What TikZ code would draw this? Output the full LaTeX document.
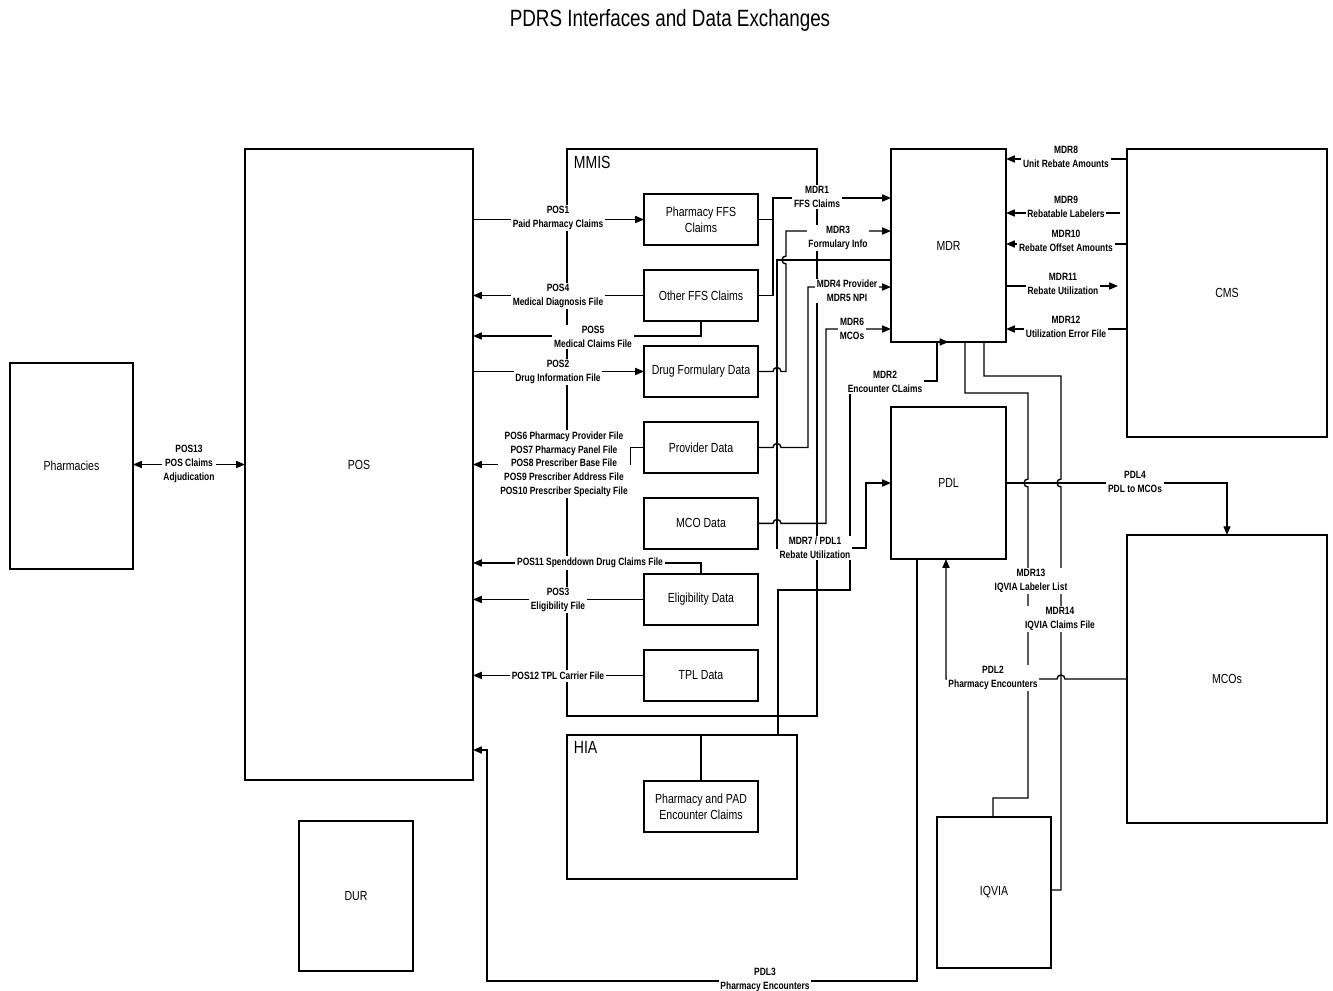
\documentclass[tikz,border=0pt]{standalone}
\usepackage{fontspec}
\setmainfont{Liberation Sans}[FakeStretch=0.8]
\usepackage{tikz}
\usetikzlibrary{arrows.meta,positioning}

\begin{document}
\begin{tikzpicture}[
  x=0.02cm, y=-0.02cm,
  node distance=0.5cm,
  line width=0.8pt,
  sysbox/.style={rectangle,draw,inner sep=0pt,outer sep=0pt,align=center,font=\fontsize{7.5}{9}\selectfont},
  databox/.style={sysbox,minimum width=2.28cm,minimum height=1.02cm},
  grpbox/.style={rectangle,draw,inner sep=0pt,outer sep=0pt},
  grplbl/.style={anchor=north west,inner sep=3.5pt,font=\fontsize{10}{12}\selectfont},
  lbl/.style={fill=white,inner sep=1pt,align=center,font=\bfseries\fontsize{6}{7.8}\selectfont},
  arrow/.style={-{Triangle[length=5pt,width=4pt]}},
  darrow/.style={{Triangle[length=5pt,width=4pt]}-{Triangle[length=5pt,width=4pt]}}
]
  \useasboundingbox (0,0) rectangle (1333,991);

  % Title
  \node[font=\fontsize{13.4}{16}\selectfont] (title) at (670,20) {PDRS Interfaces and Data Exchanges};

  % Systems
  \node[sysbox,minimum width=2.46cm,minimum height=4.12cm] (phar) at (71.5,466) {Pharmacies};
  \node[sysbox,minimum width=4.56cm,minimum height=12.62cm] (pos) at (359,464.5) {POS};
  \node[sysbox,minimum width=2.28cm,minimum height=3cm] (dur) at (356,896) {DUR};
  \node[sysbox,minimum width=2.3cm,minimum height=3.86cm] (mdr) at (948.5,245.5) {MDR};
  \node[sysbox,minimum width=2.3cm,minimum height=3.04cm] (pdl) at (948.5,483) {PDL};
  \node[sysbox,minimum width=4cm,minimum height=5.76cm] (cms) at (1227,293) {CMS};
  \node[sysbox,minimum width=4cm,minimum height=5.76cm] (mcos) at (1227,679) {MCOs};
  \node[sysbox,minimum width=2.28cm,minimum height=3.02cm] (iqvia) at (994,892.5) {IQVIA};

  % MMIS
  \node[grpbox,minimum width=5cm,minimum height=11.34cm,label={[grplbl,name=mmislbl]north west:MMIS}] (mmis) at (692,432.5) {};
  \node[databox] (ffs) at (701,219.5) {Pharmacy FFS\\Claims};
  \node[databox,below=of ffs] (other) {Other FFS Claims};
  \node[databox,below=of other] (form) {Drug Formulary Data};
  \node[databox,below=of form] (prov) {Provider Data};
  \node[databox,below=of prov] (mco) {MCO Data};
  \node[databox,below=of mco] (elig) {Eligibility Data};
  \node[databox,below=of elig] (tpl) {TPL Data};

  % HIA
  \node[grpbox,minimum width=4.6cm,minimum height=2.88cm,label={[grplbl,name=hialbl]north west:HIA}] (hia) at (682,807) {};
  \node[databox] (pad) at (701,806.5) {Pharmacy and PAD\\Encounter Claims};

  % POS interfaces
  \draw[darrow] (phar.east |- pos.west) -- (pos.west);
  \draw[arrow] (pos.east |- ffs.west) -- (ffs.west);
  \draw[arrow] (other.west) -- (pos.east |- other.west);
  \draw[arrow] (other.south) -- ++(0,15) coordinate (p5) -- (p5 -| pos.east);
  \draw[arrow] (pos.east |- form.west) -- (form.west);
  \draw[arrow] (prov.west) -- ++(-14,0) |- (pos.east);
  \draw[arrow] (elig.north) -- ++(0,-11) coordinate (p11) -- (p11 -| pos.east);
  \draw[arrow] (elig.west) -- (pos.east |- elig.west);
  \draw[arrow] (tpl.west) -- (pos.east |- tpl.west);

  % MMIS to MDR
  \draw (ffs.east) -- (ffs.east -| 773,0);
  \draw[arrow] (other.east) -| (773,198) -- (mdr.west |- 0,198);
  \draw[arrow] (form.east) -- (form.east -| 773,0) arc[start angle=180,end angle=0,radius=0.08cm]
    -- (form.east -| 786,0) -- (786,264) arc[start angle=270,end angle=90,radius=0.08cm]
    -- (786,231) -- (mdr.west |- 0,231);
  \draw[arrow] (prov.east) -- (prov.east -| 773,0) arc[start angle=180,end angle=0,radius=0.08cm]
    -- (prov.east -| 808,0) |- (mdr.west |- 0,287);
  \draw[arrow] (mco.east) -- (mco.east -| 773,0) arc[start angle=180,end angle=0,radius=0.08cm]
    -- (mco.east -| 826,0) |- (mdr.west |- 0,329);

  % MDR to PDL, HIA to MDR
  \draw[arrow] (mdr.west |- 0,260) -- (777,260) -- (777,548) -- (866,548) |- (pdl.west);
  \draw[arrow] (pad.north) |- (778,735) -- (778,590) -- (850,590) -- (850,381) -- (937,381) |- (mdr.south);

  % CMS
  \draw[arrow] (cms.west |- 0,159) -- (mdr.east |- 0,159);
  \draw[arrow,shorten <=0.14cm] (cms.west |- 0,213) -- (mdr.east |- 0,213);
  \draw[arrow] (cms.west |- 0,244) -- (mdr.east |- 0,244);
  \draw[arrow,shorten >=0.18cm] (mdr.east |- 0,286) -- (cms.west |- 0,286);
  \draw[arrow] (cms.west |- 0,329) -- (mdr.east |- 0,329);

  % IQVIA
  \draw (mdr.south -| 965,0) -- (965,393) -- (1028,393) -- (1028,479) arc[start angle=90,end angle=270,radius=0.08cm]
    -- (1028,798) -- (993,798) -- (iqvia.north -| 993,0);
  \draw (mdr.south -| 984,0) -- (984,376) -- (1061,376) -- (1061,479) arc[start angle=90,end angle=270,radius=0.08cm]
    -- (1061,890) -- (iqvia.east |- 0,890);

  % PDL and MCOs
  \draw[arrow] (pdl.east) -| (mcos.north);
  \draw[arrow] (mcos.west) -- (mcos.west -| 1065,0) arc[start angle=0,end angle=180,radius=0.08cm]
    -- (mcos.west -| 946,0) -- (pdl.south -| 946,0);
  \draw[arrow] (pdl.south -| 917,0) -- (917,981) -- (487,981) -- (487,750) -- (pos.east |- 0,750);

  % Labels
  \node[lbl] (lpos13) at (189,464) {POS13\\POS Claims\\Adjudication};
  \node[lbl] (lpos1) at (558,218) {POS1\\Paid Pharmacy Claims};
  \node[lbl] (lpos4) at (558,296) {POS4\\Medical Diagnosis File};
  \node[lbl] (lpos5) at (593,337) {POS5\\Medical Claims File};
  \node[lbl] (lpos2) at (558,372) {POS2\\Drug Information File};
  \node[lbl] (lpos6) at (564,464) {POS6 Pharmacy Provider File\\POS7 Pharmacy Panel File\\POS8 Prescriber Base File\\POS9 Prescriber Address File\\POS10 Prescriber Specialty File};
  \node[lbl] (lpos11) at (590,563) {POS11 Spenddown Drug Claims File};
  \node[lbl] (lpos3) at (558,600) {POS3\\Eligibility File};
  \node[lbl] (lpos12) at (558,676) {POS12 TPL Carrier File};

  \node[lbl] (lmdr1) at (817,197) {MDR1\\FFS Claims};
  \node[lbl] (lmdr3) at (838,238) {MDR3\\Formulary Info};
  \node[lbl] (lmdr4) at (847,291) {MDR4 Provider\\MDR5 NPI};
  \node[lbl] (lmdr6) at (852,329) {MDR6\\MCOs};
  \node[lbl] (lmdr7) at (815,548) {MDR7 / PDL1\\Rebate Utilization};
  \node[lbl] (lmdr2) at (885,382) {MDR2\\Encounter CLaims};

  \node[lbl] (lmdr8) at (1066,157) {MDR8\\Unit Rebate Amounts};
  \node[lbl] (lmdr9) at (1066,207) {MDR9\\Rebatable Labelers};
  \node[lbl] (lmdr10) at (1066,241) {MDR10\\Rebate Offset Amounts};
  \node[lbl] (lmdr11) at (1063,284) {MDR11\\Rebate Utilization};
  \node[lbl] (lmdr12) at (1066,327) {MDR12\\Utilization Error File};

  \node[lbl] (lpdl4) at (1135,482) {PDL4\\PDL to MCOs};
  \node[lbl] (lmdr13) at (1031,581) {MDR13\\IQVIA Labeler List};
  \node[lbl] (lmdr14) at (1060,619) {MDR14\\IQVIA Claims File};
  \node[lbl] (lpdl2) at (993,678) {PDL2\\Pharmacy Encounters};
  \node[lbl] (lpdl3) at (765,980) {PDL3\\Pharmacy Encounters};
\end{tikzpicture}
\end{document}
